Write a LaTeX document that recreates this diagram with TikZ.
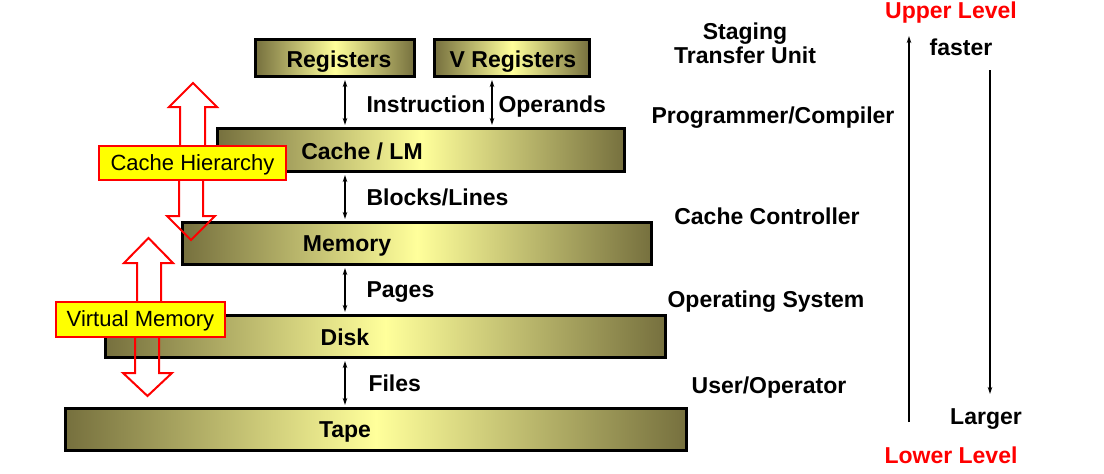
\documentclass[tikz,border=0pt]{standalone}
\usepackage{fontspec}
\setmainfont{Liberation Sans}
\usetikzlibrary{arrows.meta, calc, positioning}
\definecolor{olivedark}{RGB}{118,112,62}
\definecolor{palelemon}{RGB}{255,255,155}
\definecolor{callred}{RGB}{255,0,0}
\definecolor{callyellow}{RGB}{255,255,0}

\begin{document}
\begin{tikzpicture}[x=1pt, y=-1pt, >={Stealth[length=7pt,width=4.5pt]},
    level/.style={draw, line width=3pt, left color=olivedark, right color=olivedark,
        middle color=palelemon, inner sep=0pt},
    lvltext/.style={font=\fontsize{23}{27}\selectfont\bfseries, text depth=0pt},
    side/.style={font=\fontsize{23}{24}\selectfont\bfseries, align=center},
    redtext/.style={font=\fontsize{23}{27}\selectfont\bfseries, text=callred},
    callout/.style={draw=callred, line width=2pt, fill=callyellow, inner sep=0pt,
        text depth=0pt, font=\fontsize{22}{26}\selectfont},
    hollow/.style={draw=callred, line width=2pt, line join=miter},
    link/.style={<->, line width=1.2pt, shorten <=2pt, shorten >=2pt}]
            \useasboundingbox (0,0) rectangle (1104,474);

            % levels of the hierarchy
            \node[level, minimum width=159pt, minimum height=37pt] (reg) at (335,58) {};
            \node[level, minimum width=155pt, minimum height=37pt] (vreg) at (512,58) {};
            \node[level, minimum width=407pt, minimum height=43pt] (cache) at (421,150) {};
            \node[level, minimum width=469pt, minimum height=42pt] (mem) at (417,243.5) {};
            \node[level, minimum width=560pt, minimum height=42pt] (disk) at (385.5,336.5) {};
            \node[level, minimum width=621pt, minimum height=42pt] (tape) at (376,429.5) {};

            \node[lvltext] (reg-t) at (339,59) {Registers};
            \node[lvltext] (vreg-t) at (513,59) {V Registers};
            \node[lvltext] (cache-t) at (362,151) {Cache / LM};
            \node[lvltext] (mem-t) at (347,244) {Memory};
            \node[lvltext] (disk-t) at (345,337) {Disk};
            \node[lvltext] (tape-t) at (345,430) {Tape};

            % transfers between levels
            \draw[link] ([xshift=10pt]reg.south) -- ([xshift=10pt]reg.south |- cache.north);
            \draw[link] ([xshift=-20pt]vreg.south) -- ([xshift=-20pt]vreg.south |- cache.north);
            \draw[link] (cache.south -| disk-t) -- (mem.north -| disk-t);
            \draw[link] (mem.south -| disk-t) -- (disk.north -| disk-t);
            \draw[link] (disk.south -| disk-t) -- (tape.north -| disk-t);

            \node[lvltext, anchor=west] (instr) at (363,104) {Instruction};
            \node[lvltext, anchor=west] (oper) at (495,104) {Operands};
            \node[lvltext, anchor=west] (blocks) at (363,197) {Blocks/Lines};
            \node[lvltext, anchor=west] (pages) at (363,290) {Pages};
            \node[lvltext, anchor=west] (files) at (365,383) {Files};

            % who manages each transfer
            \node[side] (staging) at (745,43) {Staging\\Transfer Unit};
            \node[side] (prog) at (773,118) {Programmer/Compiler};
            \node[side] (cctrl) at (767,216) {Cache Controller};
            \node[side] (os) at (766,302) {Operating System};
            \node[side] (user) at (769,388) {User/Operator};

            % speed and size
            \node[redtext] (upper) at (951,13) {Upper Level};
            \node[redtext] (lower) at (951,455) {Lower Level};
            \node[side] (faster) at (961,47) {faster};
            \node[side] (larger) at (986,419) {Larger};
            \coordinate (up-top) at (909,36);
            \coordinate (up-bot) at (909,422);
            \coordinate (dn-top) at (990,70);
            \coordinate (dn-bot) at (990,394);
            \draw[->, line width=1.2pt] (up-bot) -- (up-top);
            \draw[->, line width=1.2pt] (dn-top) -- (dn-bot);

            % hollow arrows
            \draw[hollow] (180,146) -- (180,107) -- (169,107) -- (193,83) -- (217,107) -- (205,107) -- (205,146);
            \draw[hollow] (179,180) -- (179,216) -- (167,216) -- (191,240) -- (215,216) -- (203,216) -- (203,180);
            \draw[hollow] (137,301) -- (137,263) -- (124,263) -- (148.5,238) -- (173,263) -- (161,263) -- (161,301);
            \draw[hollow] (135,337) -- (135,373) -- (123,373) -- (147.5,396) -- (172,373) -- (159,373) -- (159,337);

            \node[callout, minimum width=187pt, minimum height=34pt] (cachehier) at (192.5,163) {Cache Hierarchy};
            \node[callout, minimum width=169pt, minimum height=35pt] (virtmem) at (140.5,319) {Virtual Memory};
\end{tikzpicture}
\end{document}
